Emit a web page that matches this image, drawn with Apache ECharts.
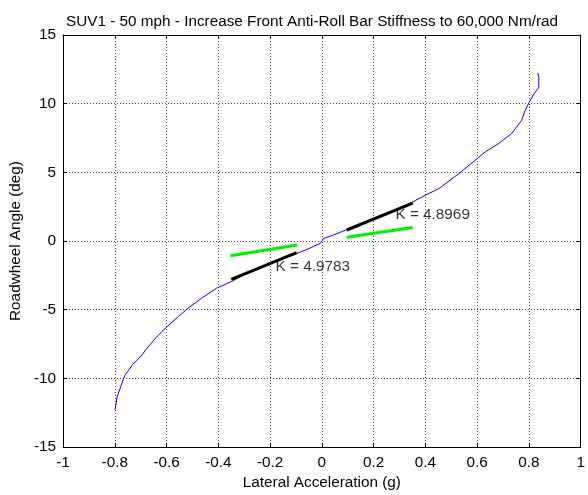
<!DOCTYPE html>
<html>
<head>
<meta charset="utf-8">
<script src="https://cdn.jsdelivr.net/npm/echarts@6/dist/echarts.min.js"></script>
<style>
  html, body { margin: 0; padding: 0; background: #fff; }
  #chart { width: 588px; height: 495px; }
</style>
</head>
<body>
<div id="chart"></div>
<script>
// measured curve: lateral acceleration (g) vs roadwheel angle (deg)
const latAcc = [-0.799, -0.79, -0.777, -0.762, -0.732, -0.694, -0.681, -0.643, -0.598, -0.554, -0.522, -0.465, -0.407, -0.35, -0.3, -0.25, -0.2, -0.15, -0.095, -0.05, -0.006, 0.007, 0.04, 0.077, 0.099, 0.15, 0.2, 0.25, 0.3, 0.345, 0.402, 0.453, 0.53, 0.593, 0.632, 0.683, 0.733, 0.772, 0.785, 0.8, 0.82, 0.838, 0.838, 0.834];
const wheelAngle = [-12.29, -11.3, -10.6, -9.82, -9.02, -8.29, -7.93, -7.08, -6.23, -5.5, -4.97, -4.17, -3.44, -2.96, -2.45, -2.05, -1.65, -1.28, -0.9, -0.55, -0.17, 0.19, 0.4, 0.68, 0.85, 1.2, 1.6, 2.0, 2.4, 2.79, 3.35, 3.83, 4.92, 5.89, 6.5, 7.1, 7.83, 8.8, 9.5, 10.06, 10.74, 11.18, 11.95, 12.24];

// fitted gradient lines (black) and reference lines (green)
const fitLeftX = [-0.35, -0.0975];
const fitLeftY = [-2.79, -0.85];
const fitRightX = [0.096, 0.351];
const fitRightY = [0.8, 2.76];
const refLeftX = [-0.353, -0.095];
const refLeftY = [-1.07, -0.29];
const refRightX = [0.096, 0.351];
const refRightY = [0.27, 0.99];

const kLabels = ['K = 4.9783', 'K = 4.8969'];
const kPos = [[-0.035, -1.87], [0.428, 1.89]];

const xTicks = { min: -1, max: 1, interval: 0.2 };
const yTicks = { min: -15, max: 15, interval: 5 };

const pairs = (xs, ys) => xs.map((x, i) => [x, ys[i]]);

const chart = echarts.init(document.getElementById('chart'));
const font = 'Liberation Sans, Arial, sans-serif';
const fs = 15.3;
const gridLine = { show: true, lineStyle: { color: '#444', type: [1, 2], width: 1 } };

function lineSeries(data, color, width, z) {
  return {
    type: 'line', data: data, showSymbol: false, symbol: 'none', z: z,
    lineStyle: { color: color, width: width }, animation: false
  };
}

chart.setOption({
  animation: false,
  title: {
    text: 'SUV1 - 50 mph - Increase Front Anti-Roll Bar Stiffness to 60,000 Nm/rad',
    left: 307, top: 9, textAlign: 'center',
    textStyle: { fontFamily: font, fontSize: fs, fontWeight: 'normal', color: '#000' }
  },
  grid: { left: 60, right: 5, top: 35, bottom: 47, containLabel: false },
  xAxis: [{
    type: 'value', min: xTicks.min, max: xTicks.max, interval: xTicks.interval,
    name: 'Lateral Acceleration (g)', nameLocation: 'middle', nameGap: 28,
    nameTextStyle: { fontFamily: font, fontSize: fs, color: '#000' },
    axisLine: { show: true, onZero: false, lineStyle: { color: '#000', width: 1 } },
    axisTick: { show: true, inside: true, length: 4, lineStyle: { color: '#000' } },
    axisLabel: { fontFamily: font, fontSize: fs, color: '#000', margin: 8 },
    splitLine: gridLine
  }, {
    type: 'value', position: 'top', min: xTicks.min, max: xTicks.max, interval: xTicks.interval,
    axisLine: { show: true, onZero: false, lineStyle: { color: '#000', width: 1 } },
    axisTick: { show: true, inside: true, length: 4, lineStyle: { color: '#000' } },
    axisLabel: { show: false }, splitLine: { show: false }
  }],
  yAxis: [{
    type: 'value', min: yTicks.min, max: yTicks.max, interval: yTicks.interval,
    name: 'Roadwheel Angle (deg)', nameLocation: 'middle', nameGap: 32,
    nameTextStyle: { fontFamily: font, fontSize: fs, color: '#000' },
    axisLine: { show: true, onZero: false, lineStyle: { color: '#000', width: 1 } },
    axisTick: { show: true, inside: true, length: 4, lineStyle: { color: '#000' } },
    axisLabel: { fontFamily: font, fontSize: fs, color: '#000', margin: 7 },
    splitLine: gridLine
  }, {
    type: 'value', position: 'right', min: yTicks.min, max: yTicks.max, interval: yTicks.interval,
    axisLine: { show: true, onZero: false, lineStyle: { color: '#000', width: 1 } },
    axisTick: { show: true, inside: true, length: 4, lineStyle: { color: '#000' } },
    axisLabel: { show: false }, splitLine: { show: false }
  }],
  series: [
    lineSeries(pairs(latAcc, wheelAngle), '#0000ff', 1, 2),
    lineSeries(pairs(fitLeftX, fitLeftY), '#000000', 3, 3),
    lineSeries(pairs(fitRightX, fitRightY), '#000000', 3, 3),
    lineSeries(pairs(refLeftX, refLeftY), '#00ee00', 3, 3),
    lineSeries(pairs(refRightX, refRightY), '#00ee00', 3, 3),
    {
      type: 'scatter', symbolSize: 0, z: 4,
      data: kPos.map((p, i) => ({ value: p, name: kLabels[i] })),
      label: {
        show: true, position: 'inside', formatter: p => p.name,
        fontFamily: font, fontSize: fs, color: '#000'
      }
    }
  ]
});
</script>
</body>
</html>
